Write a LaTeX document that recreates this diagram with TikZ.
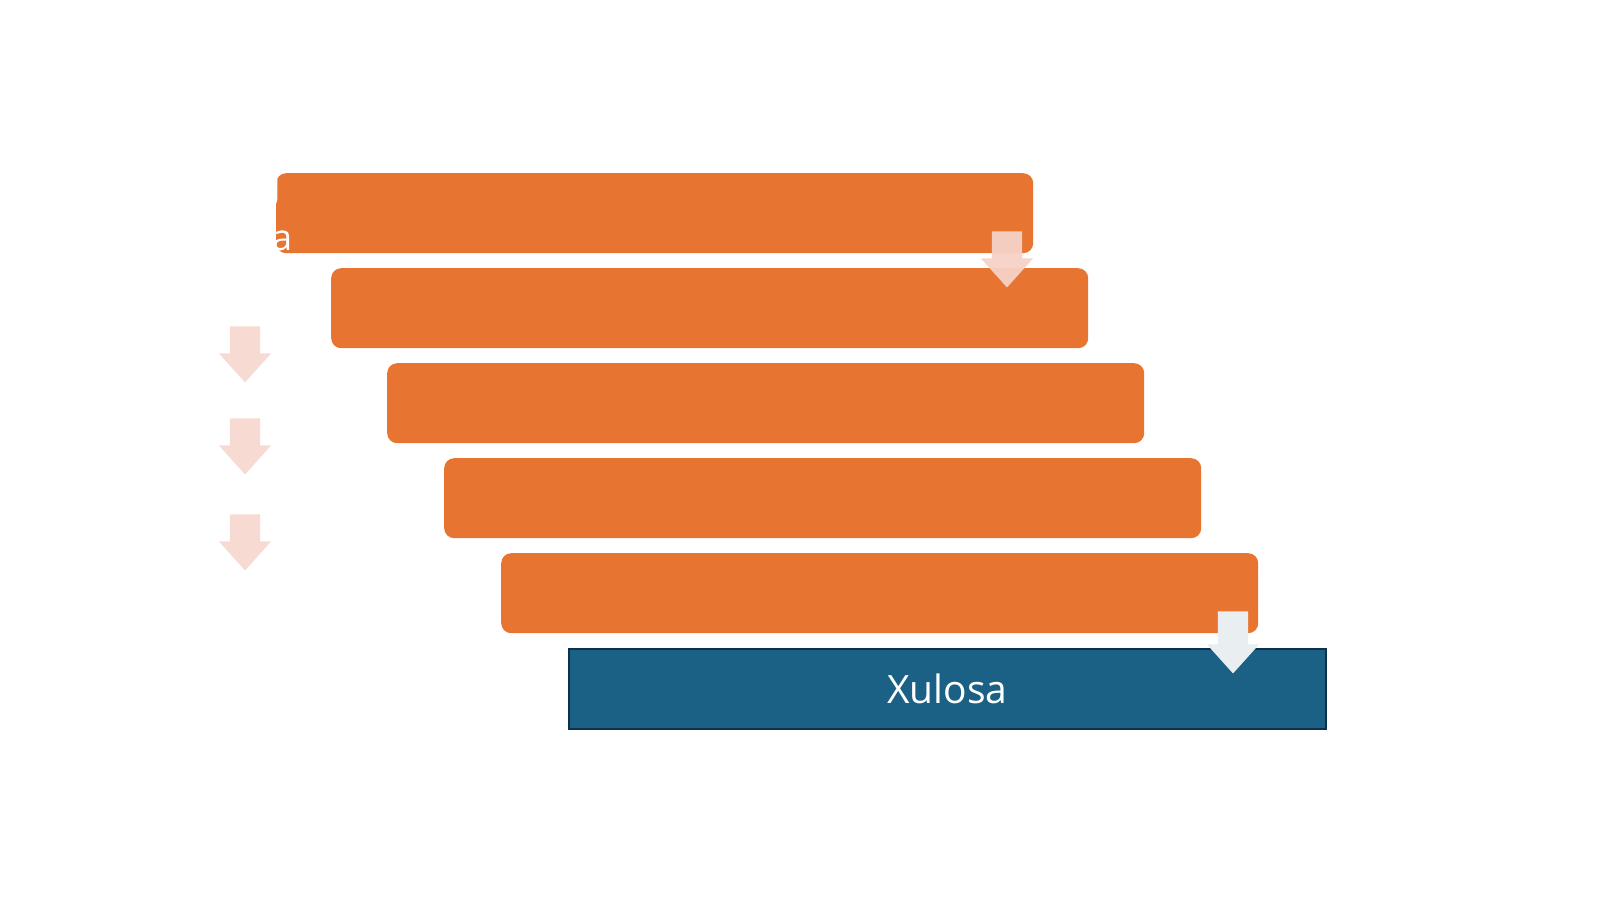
\documentclass[tikz,border=0pt]{standalone}
\usepackage{fontspec}
\setmainfont{Open Sans}
\usetikzlibrary{shapes.arrows, positioning}
\definecolor{barorange}{HTML}{E87431}
\definecolor{sumblue}{HTML}{1A6185}
\definecolor{sumline}{HTML}{0C3149}
\definecolor{pinkarrow}{HTML}{F5D2C7}
\definecolor{palearrow}{HTML}{E9EEF1}
\tikzset{>=stealth,
  bar/.style={rectangle, rounded corners=10pt, fill=barorange, anchor=north west,
    minimum width=757pt, minimum height=80pt, inner sep=0pt},
  sumbar/.style={bar, rounded corners=0pt, fill=sumblue, draw=sumline, line width=1.5pt,
    text=white, font=\fontsize{39}{46}\selectfont},
  downarrow/.style={single arrow, rotate=-90, fill=pinkarrow, inner xsep=0pt, inner ysep=15pt,
    single arrow head extend=11pt, single arrow head indent=0pt, single arrow tip angle=84,
    minimum height=56pt},
  fragment/.style={text=white, font=\fontsize{36}{40}\selectfont, inner sep=0pt, anchor=west}}

\begin{document}
\begin{tikzpicture}[x=1pt, y=-1pt]
    \useasboundingbox (0,0) rectangle (1600,899);
    \node[bar] (b1) at (276,173) {};
    \node[bar] (b2) at (331,268) {};
    \node[bar] (b3) at (387,363) {};
    \node[bar] (b4) at (444,458) {};
    \node[bar] (b5) at (501,553) {};
    \node[sumbar] (sum) at (568,648) {Xulosa};
    \node[fragment] (fj) at (271,190) {J};
    \node[fragment] (fa) at (272,241) {a};
    \node[downarrow, opacity=0.95] (a1) at (1007,251) {};
    \node[downarrow, fill=palearrow, minimum height=62pt] (a2) at (1233,634) {};
    \node[downarrow, opacity=0.8] (l1) at (245,346) {};
    \node[downarrow, opacity=0.8] (l2) at (245,438) {};
    \node[downarrow, opacity=0.8] (l3) at (245,534) {};
\end{tikzpicture}
\end{document}
